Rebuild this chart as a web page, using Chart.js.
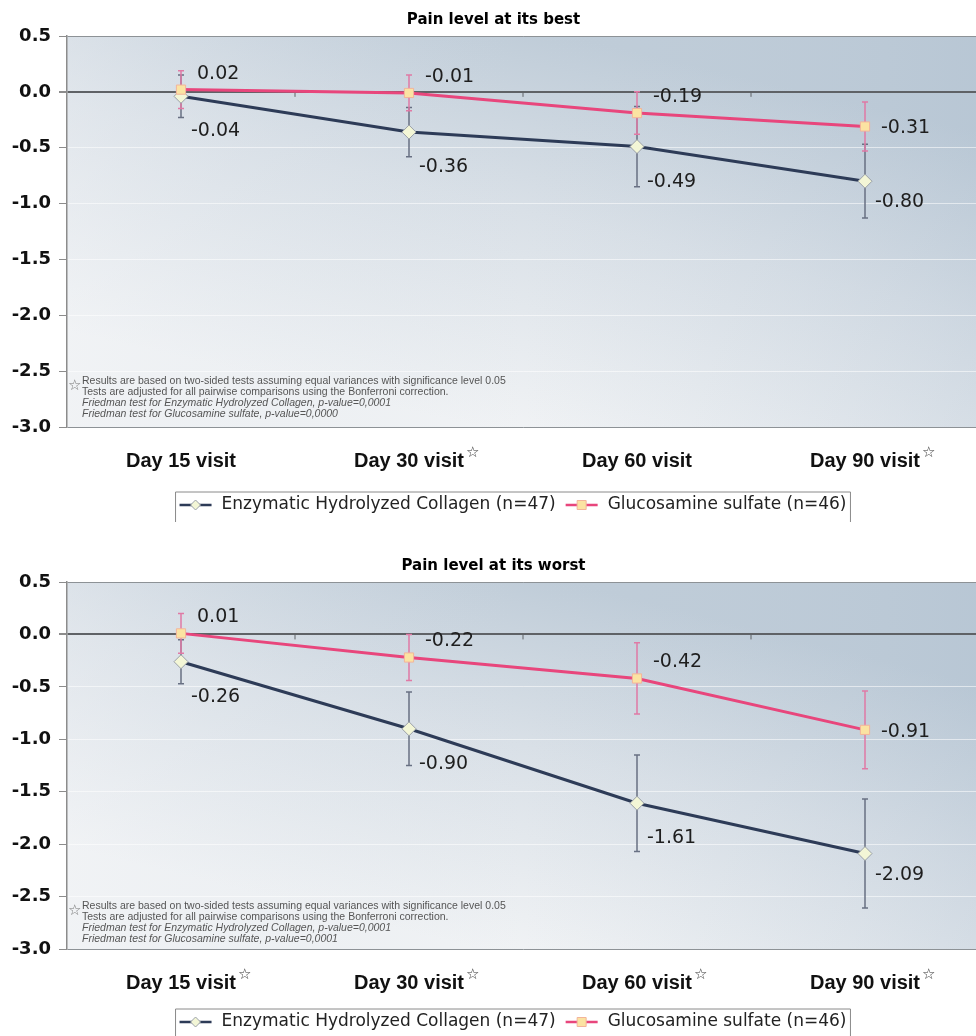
<!DOCTYPE html>
<html>
<head>
<meta charset="utf-8">
<script src="https://cdn.jsdelivr.net/npm/chart.js@4.4.1/dist/chart.umd.min.js"></script>
<style>
  html, body { margin: 0; padding: 0; background: #fff; overflow: hidden; }
  .wrap { position: relative; width: 976px; overflow: hidden; }
  #top { height: 546px; }
  #bottom { height: 490px; }
  canvas { display: block; }
</style>
</head>
<body>
<div class="wrap" id="top"><canvas id="best" width="987" height="546"></canvas></div>
<div class="wrap" id="bottom"><canvas id="worst" width="987" height="490"></canvas></div>

<script>
// data
const visits = ['Day 15 visit', 'Day 30 visit', 'Day 60 visit', 'Day 90 visit'];
const seriesNames = ['Enzymatic Hydrolyzed Collagen (n=47)', 'Glucosamine sulfate (n=46)'];
const yTicks = [0.5, 0, -0.5, -1, -1.5, -2, -2.5, -3];

const bestCollagen = [-0.04, -0.36, -0.49, -0.80];
const bestCollagenErr = [0.19, 0.22, 0.36, 0.33];
const bestGlucosamine = [0.02, -0.01, -0.19, -0.31];
const bestGlucosamineErr = [0.17, 0.16, 0.19, 0.22];
const bestStars = [false, true, false, true];

const worstCollagen = [-0.26, -0.90, -1.61, -2.09];
const worstCollagenErr = [0.21, 0.35, 0.46, 0.52];
const worstGlucosamine = [0.01, -0.22, -0.42, -0.91];
const worstGlucosamineErr = [0.19, 0.22, 0.34, 0.37];
const worstStars = [true, true, true, true];

const footnoteBest = [
    'Results are based on two-sided tests assuming equal variances with significance level 0.05',
    'Tests are adjusted for all pairwise comparisons using the Bonferroni correction.',
    'Friedman test for Enzymatic Hydrolyzed Collagen, p-value=0,0001',
    'Friedman test for Glucosamine sulfate, p-value=0,0000'
];
const footnoteWorst = [
    'Results are based on two-sided tests assuming equal variances with significance level 0.05',
    'Tests are adjusted for all pairwise comparisons using the Bonferroni correction.',
    'Friedman test for Enzymatic Hydrolyzed Collagen, p-value=0,0001',
    'Friedman test for Glucosamine sulfate, p-value=0,0001'
];

const NAVY = '#2d3b57';
const PINK = '#e8467c';
const XFONT = { family: 'Liberation Sans, Arial, sans-serif', size: 20, weight: 'bold' };

const plotBackground = {
    id: 'plotBackground',
    beforeDraw(chart) {
        const { ctx, chartArea: a } = chart;
        // mostly top-to-bottom fade, a bit bluer on the right
        const g = ctx.createLinearGradient(a.left + a.width * 0.55, a.top, a.left + a.width * 0.45, a.bottom);
        g.addColorStop(0, '#bfccd8');
        g.addColorStop(0.45, '#d9e0e7');
        g.addColorStop(1, '#f1f3f5');
        ctx.save();
        ctx.fillStyle = g;
        ctx.fillRect(a.left, a.top, a.width, a.height);
        const h = ctx.createLinearGradient(a.left, 0, a.right, 0);
        h.addColorStop(0, 'rgba(240,242,245,0.35)');
        h.addColorStop(0.5, 'rgba(200,212,224,0)');
        h.addColorStop(1, 'rgba(160,180,200,0.22)');
        ctx.fillStyle = h;
        ctx.fillRect(a.left, a.top, a.width, a.height);
        ctx.restore();
    }
};

const errorBars = {
    id: 'errorBars',
    beforeDatasetsDraw(chart) {
        const ctx = chart.ctx;
        const y = chart.scales.y;
        chart.data.datasets.forEach((ds, i) => {
            const meta = chart.getDatasetMeta(i);
            ctx.save();
            ctx.strokeStyle = ds.errorColor;
            ctx.lineWidth = 1.5;
            meta.data.forEach((pt, j) => {
                const v = ds.data[j], e = ds.errors[j];
                const y1 = y.getPixelForValue(v + e);
                const y2 = y.getPixelForValue(v - e);
                ctx.beginPath();
                ctx.moveTo(pt.x, y1); ctx.lineTo(pt.x, y2);
                ctx.moveTo(pt.x - 3, y1); ctx.lineTo(pt.x + 3, y1);
                ctx.moveTo(pt.x - 3, y2); ctx.lineTo(pt.x + 3, y2);
                ctx.stroke();
            });
            ctx.restore();
        });
        // small ticks on the zero line between categories
        const x = chart.scales.x;
        const y0 = y.getPixelForValue(0);
        ctx.save();
        ctx.strokeStyle = '#5f6266';
        ctx.lineWidth = 1;
        for (let j = 0; j < visits.length - 1; j++) {
            const xm = (x.getPixelForValue(j) + x.getPixelForValue(j + 1)) / 2;
            ctx.beginPath();
            ctx.moveTo(xm, y0); ctx.lineTo(xm, y0 + 5);
            ctx.stroke();
        }
        ctx.restore();
    }
};

const valueLabels = {
    id: 'valueLabels',
    afterDatasetsDraw(chart) {
        const ctx = chart.ctx;
        ctx.save();
        ctx.font = '19px "DejaVu Sans", sans-serif';
        ctx.fillStyle = '#1e1e1e';
        ctx.textAlign = 'left';
        ctx.textBaseline = 'middle';
        chart.data.datasets.forEach((ds, i) => {
            const meta = chart.getDatasetMeta(i);
            const s = ds.labelShift;
            meta.data.forEach((pt, j) => {
                const last = j === meta.data.length - 1;
                ctx.fillText(ds.data[j].toFixed(2), pt.x + s.dx, pt.y + (last ? s.lastDy : s.dy));
            });
        });
        ctx.restore();
    }
};

const extras = {
    id: 'extras',
    afterDraw(chart, args, opts) {
        const ctx = chart.ctx;
        const a = chart.chartArea;
        const x = chart.scales.x;

        // footnote block inside the plot
        ctx.save();
        ctx.fillStyle = '#777';
        ctx.font = '15px "DejaVu Sans", sans-serif';
        ctx.textBaseline = 'middle';
        ctx.fillText('\u2606', a.left + 1, a.bottom - opts.noteTop + 5);
        opts.notes.forEach((t, k) => {
            ctx.font = (k >= 2 ? 'italic ' : '') + '10.5px "Liberation Sans", Arial, sans-serif';
            ctx.fillStyle = '#555';
            ctx.fillText(t, a.left + 15, a.bottom - opts.noteTop + k * 11);
        });
        ctx.restore();

        // superscript stars next to x labels
        ctx.save();
        ctx.font = `bold ${XFONT.size}px ${XFONT.family}`;
        const labelY = x.top + 22 + 12;
        opts.stars.forEach((on, j) => {
            if (!on) return;
            const w = ctx.measureText(visits[j]).width;
            const px = x.getPixelForValue(j) + w / 2 + 2;
            ctx.save();
            ctx.font = '15px "DejaVu Sans", sans-serif';
            ctx.fillStyle = '#333';
            ctx.textBaseline = 'middle';
            ctx.fillText('\u2606', px, labelY - 8);
            ctx.restore();
        });
        ctx.restore();

        // legend: line with marker, then name
        ctx.save();
        ctx.font = '17px "DejaVu Sans", sans-serif';
        ctx.textBaseline = 'middle';
        const cy = a.bottom + opts.legendOffset;
        const sym = 32, gap = 10;
        const widths = chart.data.datasets.map(ds => ctx.measureText(ds.label).width);
        const total = widths.reduce((s, w) => s + sym + gap + w, 0) + gap;
        let cx = opts.legendCenter - total / 2;
        ctx.strokeStyle = '#8a8a8a';
        ctx.lineWidth = 1;
        ctx.beginPath();
        ctx.moveTo(cx - 4, cy + 17); ctx.lineTo(cx - 4, cy - 13);
        ctx.lineTo(cx + total + 4, cy - 13); ctx.lineTo(cx + total + 4, cy + 17);
        ctx.stroke();
        chart.data.datasets.forEach((ds, i) => {
            ctx.strokeStyle = ds.borderColor;
            ctx.lineWidth = 2.5;
            ctx.beginPath();
            ctx.moveTo(cx, cy); ctx.lineTo(cx + sym, cy);
            ctx.stroke();
            const mx = cx + sym / 2;
            ctx.fillStyle = ds.pointBackgroundColor;
            ctx.strokeStyle = ds.pointBorderColor;
            ctx.lineWidth = 1;
            ctx.beginPath();
            if (ds.pointStyle === 'rectRot') {
                ctx.moveTo(mx, cy - 5); ctx.lineTo(mx + 5, cy); ctx.lineTo(mx, cy + 5); ctx.lineTo(mx - 5, cy);
                ctx.closePath();
            } else {
                ctx.rect(mx - 4.5, cy - 4.5, 9, 9);
            }
            ctx.fill(); ctx.stroke();
            ctx.fillStyle = '#222';
            ctx.fillText(ds.label, cx + sym + gap, cy);
            cx += sym + gap + widths[i] + gap;
        });
        ctx.restore();
    }
};

function makeChart(id, title, collagen, collagenErr, gluc, glucErr, stars, notes, xBottomPad, legendOffset, noteTop) {
    return new Chart(document.getElementById(id), {
        type: 'line',
        data: {
            labels: visits,
            datasets: [{
                label: seriesNames[0],
                data: collagen,
                errors: collagenErr,
                errorColor: '#687083',
                labelShift: { dx: 10, dy: 35, lastDy: 21 },
                borderColor: NAVY,
                borderWidth: 3,
                pointStyle: 'rectRot',
                pointRadius: 7,
                pointBackgroundColor: '#f3f6d6',
                pointBorderColor: '#9aa0a8',
                pointBorderWidth: 1,
                tension: 0,
                order: 2
            }, {
                label: seriesNames[1],
                data: gluc,
                errors: glucErr,
                errorColor: '#e07aa5',
                labelShift: { dx: 16, dy: -16, lastDy: 2 },
                borderColor: PINK,
                borderWidth: 3,
                pointStyle: 'rect',
                pointRadius: 6.5,
                pointBackgroundColor: '#fbe3a2',
                pointBorderColor: '#f3b49a',
                pointBorderWidth: 1,
                tension: 0,
                order: 1
            }]
        },
        options: {
            responsive: false,
            animation: false,
            layout: { padding: { left: 0, right: 0, top: 0, bottom: xBottomPad } },
            plugins: {
                legend: { display: false },
                tooltip: { enabled: false },
                title: {
                    display: true,
                    text: title,
                    color: '#000',
                    font: { family: 'DejaVu Sans, sans-serif', size: 15, weight: 'bold' },
                    padding: { top: 11, bottom: 7 }
                },
                extras: { stars: stars, notes: notes, legendOffset: legendOffset, legendCenter: 513, noteTop: noteTop }
            },
            scales: {
                x: {
                    offset: true,
                    grid: { display: false, drawTicks: false },
                    border: { display: false },
                    ticks: { color: '#111', font: XFONT, padding: 22, maxRotation: 0, autoSkip: false },
                    afterFit(scale) { scale.height = 50; }
                },
                y: {
                    min: -3,
                    max: 0.5,
                    afterBuildTicks(scale) { scale.ticks = yTicks.map(v => ({ value: v })); },
                    afterFit(scale) { scale.width = 67; },
                    border: { display: true, color: '#8c8c8c', width: 1.5 },
                    grid: {
                        color: c => c.tick.value === 0 ? '#5f6266'
                            : (c.tick.value === 0.5 || c.tick.value === -3 ? '#8d9296' : 'rgba(255,255,255,0.55)'),
                        lineWidth: c => c.tick.value === 0 ? 2 : 1,
                        tickColor: '#8c8c8c',
                        tickLength: 8
                    },
                    ticks: {
                        color: '#111',
                        padding: 8,
                        font: { family: 'DejaVu Sans, sans-serif', size: 18, weight: 'bold' },
                        callback: v => v.toFixed(1)
                    }
                }
            }
        },
        plugins: [plotBackground, errorBars, valueLabels, extras]
    });
}

makeChart('best', 'Pain level at its best', bestCollagen, bestCollagenErr, bestGlucosamine, bestGlucosamineErr,
    bestStars, footnoteBest, 69, 78, 46);
makeChart('worst', 'Pain level at its worst', worstCollagen, worstCollagenErr, worstGlucosamine, worstGlucosamineErr,
    worstStars, footnoteWorst, 37, 73, 43);
</script>
</body>
</html>
